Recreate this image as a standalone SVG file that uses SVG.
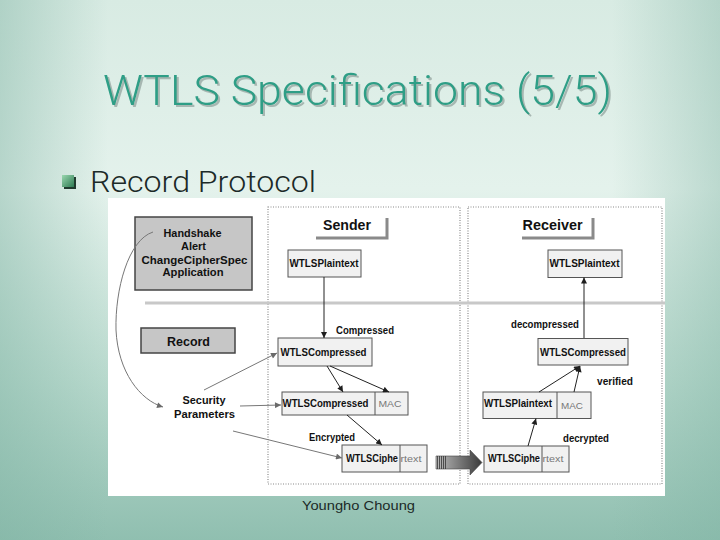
<svg xmlns="http://www.w3.org/2000/svg" width="720" height="540" viewBox="0 0 720 540">
<defs>
<linearGradient id="bg" x1="0" y1="0" x2="0" y2="1">
<stop offset="0" stop-color="#d8ebe3"/>
<stop offset="0.35" stop-color="#e4f2ec"/>
<stop offset="0.7" stop-color="#b8d9cd"/>
<stop offset="1" stop-color="#90bfb0"/>
</linearGradient>
<linearGradient id="side" x1="0" y1="0" x2="1" y2="0">
<stop offset="0" stop-color="#7fb3a3" stop-opacity="0.45"/>
<stop offset="0.15" stop-color="#7fb3a3" stop-opacity="0"/>
<stop offset="0.85" stop-color="#7fb3a3" stop-opacity="0"/>
<stop offset="1" stop-color="#7fb3a3" stop-opacity="0.4"/>
</linearGradient>
<linearGradient id="bullet" x1="0" y1="0" x2="1" y2="1">
<stop offset="0" stop-color="#9ad8b0"/>
<stop offset="1" stop-color="#2d7a52"/>
</linearGradient>
<linearGradient id="big" x1="0" y1="0" x2="1" y2="0">
<stop offset="0" stop-color="#bdbdbd"/>
<stop offset="0.5" stop-color="#7a7a7a"/>
<stop offset="1" stop-color="#3a3a3a"/>
</linearGradient>
<filter id="tsh" x="-5%" y="-20%" width="110%" height="140%">
<feDropShadow dx="2" dy="2" stdDeviation="0.6" flood-color="#8f9f9a" flood-opacity="0.7"/>
</filter>
<marker id="ah" viewBox="0 0 10 10" refX="10" refY="5" markerWidth="7" markerHeight="6" orient="auto" markerUnits="userSpaceOnUse">
<path d="M0,0 L10,5 L0,10 z" fill="#1e1e1e"/>
</marker>
<marker id="ahg" viewBox="0 0 10 10" refX="10" refY="5" markerWidth="8" markerHeight="6" orient="auto" markerUnits="userSpaceOnUse">
<path d="M0,0 L10,5 L0,10 z" fill="#6a6a6a"/>
</marker>
<style>
.title{font-family:Roboto,"Liberation Sans",Arial,sans-serif;font-weight:300;font-size:42px;fill:#2e9e86}
.sub{font-family:Roboto,"Liberation Sans",Arial,sans-serif;font-weight:300;font-size:30px;fill:#1c2a28}
.foot{font-family:"Liberation Sans",Arial,sans-serif;font-size:12.5px;fill:#1c2a28}
.b{font-family:"Liberation Sans",Arial,sans-serif;font-weight:bold;font-size:10px;fill:#111}
.hd{font-family:"Liberation Sans",Arial,sans-serif;font-weight:bold;font-size:14px;fill:#111}
.lt{font-family:"Liberation Sans",Arial,sans-serif;font-size:9.5px;fill:#777}
.box{fill:#f1f1f1;stroke:#555;stroke-width:1}
.gbox{fill:#c6c6c6;stroke:#444;stroke-width:1.5}
.div{stroke:#555;stroke-width:1}
.dot{fill:none;stroke:#8a8a8a;stroke-width:1.2;stroke-dasharray:1 1.5}
.ln{fill:none;stroke:#222;stroke-width:1;marker-end:url(#ah)}
.lg{fill:none;stroke:#777;stroke-width:1;marker-end:url(#ahg)}
.lbar{fill:none;stroke:#8a8a8a;stroke-width:3}
</style>
</defs>

<rect x="0" y="0" width="720" height="540" fill="url(#bg)"/>
<rect x="0" y="0" width="720" height="540" fill="url(#side)"/>

<g id="title">
<text class="title" x="103" y="105" textLength="509" lengthAdjust="spacingAndGlyphs" filter="url(#tsh)">WTLS Specifications (5/5)</text>
</g>

<g id="bullet-item">
<rect x="64" y="177" width="12" height="12" fill="#1f3a2e"/>
<rect x="62" y="175" width="12" height="12" fill="url(#bullet)"/>
<text class="sub" x="90" y="192" textLength="226" lengthAdjust="spacingAndGlyphs">Record Protocol</text>
</g>

<rect id="panel" x="108" y="198" width="557" height="298" fill="#ffffff"/>

<g id="sender-frame">
<rect class="dot" x="268" y="207" width="192" height="277"/>
</g>
<g id="receiver-frame">
<rect class="dot" x="468" y="207" width="194" height="277"/>
</g>

<line id="layer-line" x1="145" y1="303" x2="665" y2="303" stroke="#c8c8c8" stroke-width="3"/>

<g id="handshake">
<rect class="gbox" x="135" y="217" width="117" height="73"/>
<text class="b" x="192.5" y="236.5" text-anchor="middle" textLength="58" lengthAdjust="spacingAndGlyphs">Handshake</text>
<text class="b" x="193.5" y="250" text-anchor="middle" textLength="25" lengthAdjust="spacingAndGlyphs">Alert</text>
<text class="b" x="194.5" y="264" text-anchor="middle" textLength="106" lengthAdjust="spacingAndGlyphs">ChangeCipherSpec</text>
<text class="b" x="193" y="275.5" text-anchor="middle" textLength="61" lengthAdjust="spacingAndGlyphs">Application</text>
</g>

<g id="record">
<rect class="gbox" x="141" y="328" width="94" height="25"/>
<text class="b" x="188.5" y="346" text-anchor="middle" style="font-size:12.5px" textLength="43" lengthAdjust="spacingAndGlyphs">Record</text>
</g>

<g id="security-parameters">
<text class="b" x="204" y="403.5" text-anchor="middle" textLength="43" lengthAdjust="spacingAndGlyphs">Security</text>
<text class="b" x="204.5" y="417.5" text-anchor="middle" textLength="61" lengthAdjust="spacingAndGlyphs">Parameters</text>
</g>

<g id="sender-label">
<text class="hd" x="347" y="230" text-anchor="middle" textLength="48" lengthAdjust="spacingAndGlyphs">Sender</text>
<polyline class="lbar" points="316,238 387,238 387,218"/>
</g>
<g id="receiver-label">
<text class="hd" x="552.5" y="230" text-anchor="middle" textLength="60" lengthAdjust="spacingAndGlyphs">Receiver</text>
<polyline class="lbar" points="522,238 593,238 593,218"/>
</g>

<g id="s-plaintext">
<rect class="box" x="288" y="250" width="73" height="27"/>
<text class="b" x="324" y="267" text-anchor="middle" textLength="69" lengthAdjust="spacingAndGlyphs">WTLSPlaintext</text>
</g>
<g id="s-compressed">
<rect class="box" x="278" y="338" width="94" height="28"/>
<text class="b" x="323.5" y="356" text-anchor="middle" textLength="86" lengthAdjust="spacingAndGlyphs">WTLSCompressed</text>
</g>
<g id="s-compressed-mac">
<rect class="box" x="282" y="392" width="126" height="23"/>
<line class="div" x1="375" y1="392" x2="375" y2="415"/>
<text class="b" x="325.5" y="406.5" text-anchor="middle" textLength="86" lengthAdjust="spacingAndGlyphs">WTLSCompressed</text>
<text class="lt" x="390" y="406.5" text-anchor="middle" textLength="23" lengthAdjust="spacingAndGlyphs">MAC</text>
</g>
<g id="s-ciphertext">
<rect class="box" x="342" y="445" width="85" height="27"/>
<line class="div" x1="400" y1="445" x2="400" y2="472"/>
<text class="b" x="346" y="462" textLength="52" lengthAdjust="spacingAndGlyphs">WTLSCiphe</text>
<text class="lt" x="400.5" y="462" textLength="21" lengthAdjust="spacingAndGlyphs">rtext</text>
</g>

<g id="r-plaintext">
<rect class="box" x="548" y="250" width="74" height="27.5"/>
<text class="b" x="584.5" y="267" text-anchor="middle" textLength="70" lengthAdjust="spacingAndGlyphs">WTLSPlaintext</text>
</g>
<g id="r-compressed">
<rect class="box" x="538" y="338.5" width="90" height="26.5"/>
<text class="b" x="583" y="355.5" text-anchor="middle" textLength="86" lengthAdjust="spacingAndGlyphs">WTLSCompressed</text>
</g>
<g id="r-plaintext-mac">
<rect class="box" x="483" y="392" width="108" height="26.5"/>
<line class="div" x1="557" y1="392" x2="557" y2="418.5"/>
<text class="b" x="518" y="407" text-anchor="middle" textLength="68" lengthAdjust="spacingAndGlyphs">WTLSPlaintext</text>
<text class="lt" x="572" y="409" text-anchor="middle" textLength="22" lengthAdjust="spacingAndGlyphs">MAC</text>
</g>
<g id="r-ciphertext">
<rect class="box" x="484" y="446" width="85" height="26"/>
<line class="div" x1="542" y1="446" x2="542" y2="472"/>
<text class="b" x="488" y="462" textLength="52" lengthAdjust="spacingAndGlyphs">WTLSCiphe</text>
<text class="lt" x="542.5" y="462" textLength="21" lengthAdjust="spacingAndGlyphs">rtext</text>
</g>

<g id="labels">
<text class="b" x="336" y="334" textLength="58" lengthAdjust="spacingAndGlyphs">Compressed</text>
<text class="b" x="309" y="440.5" textLength="46" lengthAdjust="spacingAndGlyphs">Encrypted</text>
<text class="b" x="511" y="328" textLength="68" lengthAdjust="spacingAndGlyphs">decompressed</text>
<text class="b" x="597" y="384.5" textLength="36" lengthAdjust="spacingAndGlyphs">verified</text>
<text class="b" x="563" y="442" textLength="46" lengthAdjust="spacingAndGlyphs">decrypted</text>
</g>

<g id="connectors">
<path class="lg" d="M153,232 C128,240 115,290 116,330 C118,372 140,400 163,407"/>
<path class="lg" d="M204,390 L277,353"/>
<path class="lg" d="M240,406 L281,405"/>
<path class="lg" d="M233,431 L342,458"/>
<path class="ln" d="M324,277 L324,338"/>
<path class="ln" d="M327,366 L343,392"/>
<path class="ln" d="M330,366 L389,392"/>
<path class="ln" d="M347,415 L382,445"/>
<path class="ln" d="M528,446 L536,418.5"/>
<path class="ln" d="M539,392 L580,366"/>
<path class="ln" d="M574,392 L580,366"/>
<path class="ln" d="M584,338 L584,277.5"/>
<g id="transfer-arrow">
<path d="M436,456 L470,456 L470,450 L482,462.5 L470,475 L470,469 L436,469 z" fill="url(#big)" stroke="#444" stroke-width="0.6"/>
<g stroke="#333" stroke-width="0.8">
<line x1="437.5" y1="456" x2="437.5" y2="469"/>
<line x1="439.5" y1="456" x2="439.5" y2="469"/>
<line x1="441.5" y1="456" x2="441.5" y2="469"/>
<line x1="443.5" y1="456" x2="443.5" y2="469"/>
<line x1="445.5" y1="456" x2="445.5" y2="469"/>
</g>
</g>
</g>

<text id="footer" class="foot" x="302" y="509.5" textLength="113" lengthAdjust="spacingAndGlyphs">Youngho Choung</text>
</svg>
